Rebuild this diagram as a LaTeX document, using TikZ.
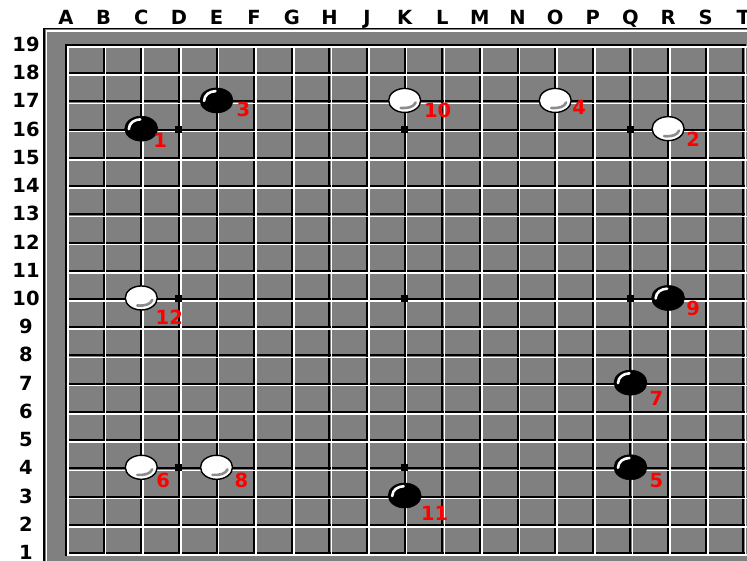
\documentclass[tikz,border=0pt]{standalone}
\usepackage{fontspec}
\setmainfont{DejaVu Sans}
\usetikzlibrary{shapes.geometric,calc}
\definecolor{boardgray}{RGB}{128,128,128}
\definecolor{hookgray}{RGB}{140,140,140}
\definecolor{numred}{RGB}{255,0,0}
\begin{document}
\begin{tikzpicture}[x=1pt,y=-1pt,
  axislbl/.style={font=\fontsize{19.5}{19.5}\selectfont\bfseries, text=black, inner sep=0pt, anchor=base},
  movenum/.style={font=\fontsize{19.5}{19.5}\selectfont\bfseries, text=numred, inner sep=0pt},
  gridblack/.style={draw=black, line width=2pt},
  gridwhite/.style={draw=white, line width=1.6pt},
  hoshi/.style={fill=black, draw=none, rectangle, minimum width=7pt, minimum height=7pt, inner sep=0pt},
  bstone/.style={ellipse, fill=black, draw=black, line width=0.6pt, minimum width=33pt, minimum height=25pt, inner sep=0pt},
  wstone/.style={ellipse, fill=white, draw=black, line width=1.4pt, minimum width=32pt, minimum height=24pt, inner sep=0pt},
  shine/.style={draw=white, line width=2.6pt, line cap=round},
  hook/.style={draw=hookgray, line width=2.6pt, line cap=round}
]
\useasboundingbox (0,0) rectangle (747,561);
\fill[white] (0,0) rectangle (747,561);
% outer panel
\fill[boardgray] (44,28.5) rectangle (770,580);
\draw[black, line width=1.5pt] (44,580) -- (44,28.5) -- (770,28.5);
\draw[white, line width=1.5pt] (46.3,580) -- (46.3,30.8) -- (770,30.8);
% grid: black lines then white lines
\foreach \i in {0,...,18} {
  \draw[gridblack] ({66+37.63*\i},44) -- ({66+37.63*\i},556);
}
\foreach \j in {0,...,18} {
  \draw[gridblack] (65,{45+28.22*\j}) -- (746,{45+28.22*\j});
}
\foreach \i in {0,...,18} {
  \draw[gridwhite] ({68+37.63*\i},46) -- ({68+37.63*\i},556);
}
\foreach \j in {0,...,18} {
  \draw[gridwhite] (67,{47+28.22*\j}) -- (748,{47+28.22*\j});
}
% column letters
\foreach \l [count=\i from 0] in {A,B,C,D,E,F,G,H,J,K,L,M,N,O,P,Q,R,S,T} {
  \node[axislbl] (col\l) at ({66+37.63*\i},24.5) {\l};
}
% row numbers
\foreach \r in {1,...,19} {
  \node[axislbl] (row\r) at (26,{51.5+28.22*(19-\r)}) {\r};
}
% star points
\foreach \c/\r in {3/4,3/10,3/16,9/4,9/10,9/16,15/4,15/10,15/16} {
  \node[hoshi] (hoshi\c-\r) at ({66+37.63*\c},{45+28.22*(19-\r)-0.5}) {};
}
% black stones
\foreach \n/\c/\r/\dx/\dy in {1/2/16/19/12, 3/4/17/27/9, 5/15/4/26/13, 7/15/7/26/16, 9/16/10/25/10, 11/9/3/30/18} {
  \node[bstone] (m\n) at ({66+37.63*\c},{45+28.22*(19-\r)-1}) {};
  \draw[shine] ($(m\n)+(-12.5,0.5)$) .. controls ($(m\n)+(-12,-6)$) and ($(m\n)+(-7,-9)$) .. ($(m\n)+(-1,-9.3)$);
  \node[movenum] (lbl\n) at ($(m\n)+(\dx,\dy)$) {\n};
}
% white stones
\foreach \n/\c/\r/\dx/\dy in {2/16/16/25/11, 4/13/17/24/7, 6/2/4/22/13, 8/4/4/25/13, 10/9/17/33/10, 12/2/10/28/19} {
  \node[wstone] (m\n) at ({66+37.63*\c},{45+28.22*(19-\r)-1}) {};
  \draw[hook] ($(m\n)+(-4,7.5)$) .. controls ($(m\n)+(4,8)$) and ($(m\n)+(9,6.5)$) .. ($(m\n)+(11,2)$);
  \node[movenum] (lbl\n) at ($(m\n)+(\dx,\dy)$) {\n};
}
\end{tikzpicture}
\end{document}
